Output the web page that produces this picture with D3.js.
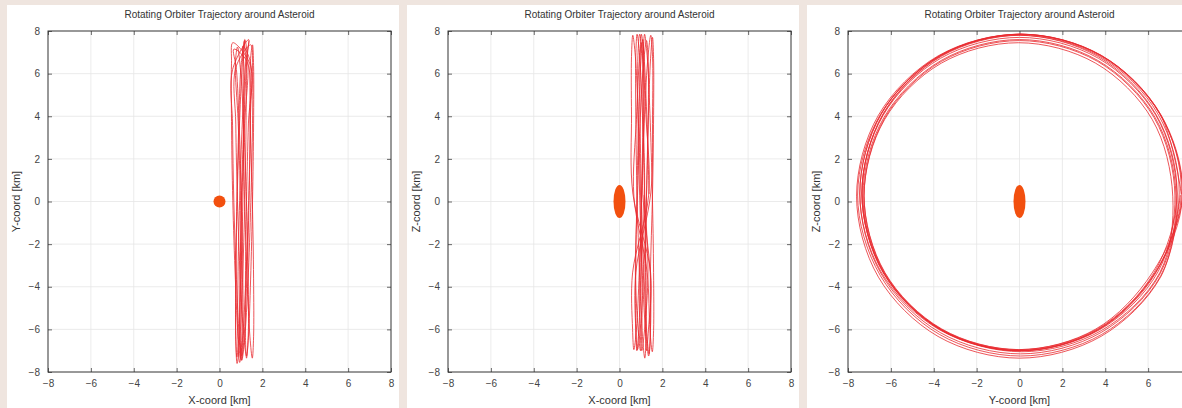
<!DOCTYPE html>
<html>
<head>
<meta charset="utf-8">
<script src="https://cdn.jsdelivr.net/npm/d3@7"></script>
<style>
  html, body { margin: 0; padding: 0; background: #efe5df; overflow: hidden; }
  svg { display: block; }
</style>
</head>
<body>
<svg id="chart" width="1182" height="408"></svg>
<script>
// ---- Data (km), sampled along the orbiter trajectory (10 revolutions) ----
const orbitX = [
  1.38, 1.27, 1.14, 1.02, 0.96, 0.96, 1.02, 1.14, 1.27, 1.38, 1.44, 1.44,
  1.09, 1.14, 1.14, 1.09, 1.00, 0.90, 0.81, 0.76, 0.76, 0.81, 0.90, 1.00,
  1.17, 1.11, 1.11, 1.17, 1.29, 1.42, 1.53, 1.59, 1.59, 1.53, 1.42, 1.29,
  0.67, 0.79, 0.92, 1.03, 1.09, 1.09, 1.03, 0.92, 0.79, 0.67, 0.61, 0.61,
  1.36, 1.23, 1.07, 0.94, 0.86, 0.86, 0.94, 1.07, 1.23, 1.36, 1.44, 1.44,
  1.54, 1.59, 1.59, 1.54, 1.45, 1.35, 1.26, 1.21, 1.21, 1.26, 1.35, 1.45,
  0.62, 0.56, 0.56, 0.62, 0.74, 0.87, 0.98, 1.04, 1.04, 0.98, 0.87, 0.74,
  0.84, 0.97, 1.13, 1.26, 1.34, 1.34, 1.26, 1.13, 0.97, 0.84, 0.76, 0.76,
  1.46, 1.54, 1.54, 1.46, 1.33, 1.17, 1.04, 0.96, 0.96, 1.04, 1.17, 1.33,
  1.18, 1.07, 0.94, 0.82, 0.76, 0.76, 0.82, 0.94, 1.07, 1.18, 1.24, 1.24,
  1.15
];
const orbitY = [
  7.55, 6.55, 3.80, 0.05, -3.70, -6.45, -7.45, -6.45, -3.70, 0.05, 3.80, 6.55,
  7.30, 6.32, 3.65, 0.00, -3.65, -6.32, -7.30, -6.32, -3.65, 0.00, 3.65, 6.32,
  7.55, 6.55, 3.83, 0.10, -3.63, -6.35, -7.35, -6.35, -3.63, 0.10, 3.83, 6.55,
  7.15, 6.19, 3.55, -0.05, -3.65, -6.29, -7.25, -6.29, -3.65, -0.05, 3.55, 6.19,
  7.60, 6.59, 3.83, 0.05, -3.73, -6.49, -7.55, -6.49, -3.73, 0.05, 3.83, 6.59,
  7.35, 6.37, 3.68, 0.00, -3.68, -6.37, -7.35, -6.37, -3.68, 0.00, 3.68, 6.37,
  7.45, 6.46, 3.75, 0.05, -3.65, -6.36, -7.35, -6.36, -3.65, 0.05, 3.75, 6.46,
  7.25, 6.28, 3.63, 0.00, -3.63, -6.28, -7.25, -6.28, -3.63, 0.00, 3.63, 6.28,
  7.35, 6.36, 3.65, -0.05, -3.75, -6.46, -7.45, -6.46, -3.75, -0.05, 3.65, 6.36,
  7.60, 6.58, 3.80, 0.00, -3.80, -6.58, -7.60, -6.58, -3.80, 0.00, 3.80, 6.58,
  7.50
];
const orbitZ = [
  0.35, 4.10, 6.85, 7.85, 6.85, 4.10, 0.35, -3.40, -6.15, -7.15, -6.15, -3.40,
  0.30, 3.95, 6.62, 7.60, 6.62, 3.95, 0.30, -3.35, -6.02, -7.00, -6.02, -3.35,
  0.40, 4.13, 6.85, 7.85, 6.85, 4.13, 0.40, -3.33, -6.05, -7.05, -6.05, -3.33,
  0.25, 3.85, 6.49, 7.45, 6.49, 3.85, 0.25, -3.35, -5.99, -6.95, -5.99, -3.35,
  0.30, 4.08, 6.84, 7.85, 6.84, 4.08, 0.30, -3.48, -6.24, -7.25, -6.24, -3.48,
  0.35, 4.03, 6.72, 7.70, 6.72, 4.03, 0.35, -3.33, -6.02, -7.00, -6.02, -3.33,
  0.40, 4.10, 6.81, 7.80, 6.81, 4.10, 0.40, -3.30, -6.01, -7.00, -6.01, -3.30,
  0.30, 3.93, 6.58, 7.55, 6.58, 3.93, 0.30, -3.33, -5.98, -6.95, -5.98, -3.33,
  0.40, 4.10, 6.81, 7.80, 6.81, 4.10, 0.40, -3.30, -6.01, -7.00, -6.01, -3.30,
  0.25, 4.05, 6.83, 7.85, 6.83, 4.05, 0.25, -3.55, -6.33, -7.35, -6.33, -3.55,
  0.30
];
// Asteroid centre and semi-axes (km)
const asteroidCenter = { x: 0, y: 0, z: 0 };
const asteroidAxes = { x: 0.28, y: 0.28, z: 0.78 };

const axisTicks = [-8, -6, -4, -2, 0, 2, 4, 6, 8];
const axisDomain = [-8, 8];
const chartTitle = "Rotating Orbiter Trajectory around Asteroid";
const panelDefs = [
  { h: "x", v: "y", xLabel: "X-coord [km]", yLabel: "Y-coord [km]" },
  { h: "x", v: "z", xLabel: "X-coord [km]", yLabel: "Z-coord [km]" },
  { h: "y", v: "z", xLabel: "Y-coord [km]", yLabel: "Z-coord [km]" }
];

// ---- Layout ----
const panelLeft = [7, 407, 807];
const panelTop = 5, panelW = 392, panelH = 403;
const plotL = 41, plotT = 26, plotW = 343, plotH = 341;

const svg = d3.select("#chart");
const pts = orbitX.map((_, i) => ({ x: orbitX[i], y: orbitY[i], z: orbitZ[i] }));

const fontFam = "'Liberation Sans', Arial, Helvetica, sans-serif";

panelDefs.forEach((p, idx) => {
  const g = svg.append("g").attr("transform", `translate(${panelLeft[idx]},${panelTop})`);
  g.append("rect").attr("width", panelW).attr("height", panelH).attr("fill", "#ffffff");

  const xs = d3.scaleLinear().domain(axisDomain).range([0, plotW]);
  const ys = d3.scaleLinear().domain(axisDomain).range([plotH, 0]);
  const pg = g.append("g").attr("transform", `translate(${plotL},${plotT})`);

  // grid
  pg.append("g").selectAll("line").data(axisTicks.slice(1, -1)).join("line")
    .attr("x1", d => xs(d)).attr("x2", d => xs(d)).attr("y1", 0).attr("y2", plotH)
    .attr("stroke", "#e6e6e6").attr("stroke-width", 0.8);
  pg.append("g").selectAll("line").data(axisTicks.slice(1, -1)).join("line")
    .attr("y1", d => ys(d)).attr("y2", d => ys(d)).attr("x1", 0).attr("x2", plotW)
    .attr("stroke", "#e6e6e6").attr("stroke-width", 0.8);

  // axes (ticks inward on all four sides)
  const tickStyle = sel => {
    sel.select(".domain").remove();
    sel.selectAll(".tick line").attr("stroke", "#444").attr("stroke-width", 0.8);
    sel.selectAll(".tick text").attr("fill", "#444").style("font-family", fontFam).style("font-size", "10px");
  };
  pg.append("g").attr("transform", `translate(0,${plotH})`)
    .call(d3.axisBottom(xs).tickValues(axisTicks).tickSize(-4).tickPadding(8).tickFormat(d3.format("d")))
    .call(tickStyle);
  pg.append("g")
    .call(d3.axisLeft(ys).tickValues(axisTicks).tickSize(-4).tickPadding(8).tickFormat(d3.format("d")))
    .call(tickStyle);
  pg.append("g")
    .call(d3.axisTop(xs).tickValues(axisTicks).tickSize(-4).tickFormat(""))
    .call(tickStyle);
  pg.append("g").attr("transform", `translate(${plotW},0)`)
    .call(d3.axisRight(ys).tickValues(axisTicks).tickSize(-4).tickFormat(""))
    .call(tickStyle);

  // asteroid
  const rxKm = asteroidAxes[p.h], ryKm = asteroidAxes[p.v];
  pg.append("ellipse")
    .attr("cx", xs(asteroidCenter[p.h])).attr("cy", ys(asteroidCenter[p.v]))
    .attr("rx", xs(rxKm) - xs(0)).attr("ry", ys(0) - ys(ryKm))
    .attr("fill", "#f2500f");

  // trajectory
  const line = d3.line().x(d => xs(d[p.h])).y(d => ys(d[p.v])).curve(d3.curveCatmullRom.alpha(0.5));
  pg.append("path").datum(pts).attr("d", line)
    .attr("fill", "none").attr("stroke", "#e82a30").attr("stroke-width", 1)
    .attr("stroke-opacity", 0.8);

  // frame
  pg.append("rect").attr("width", plotW).attr("height", plotH)
    .attr("fill", "none").attr("stroke", "#333").attr("stroke-width", 1);

  // texts
  g.append("text").attr("x", plotL + plotW / 2).attr("y", 13).attr("text-anchor", "middle")
    .style("font-family", fontFam).style("font-size", "10px").attr("fill", "#333").text(chartTitle);
  g.append("text").attr("x", plotL + plotW / 2).attr("y", 399).attr("text-anchor", "middle")
    .style("font-family", fontFam).style("font-size", "11px").attr("fill", "#333").text(p.xLabel);
  g.append("text").attr("transform", `translate(13,${plotT + plotH / 2}) rotate(-90)`)
    .attr("text-anchor", "middle")
    .style("font-family", fontFam).style("font-size", "11px").attr("fill", "#333").text(p.yLabel);
});
</script>
</body>
</html>
